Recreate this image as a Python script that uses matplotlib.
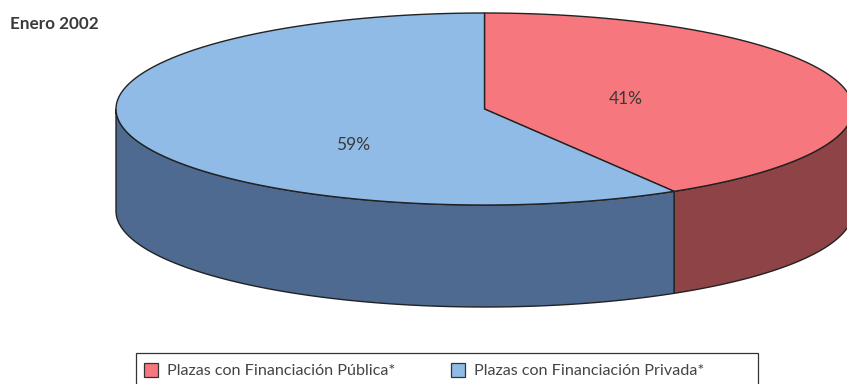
#!/usr/bin/env python
import numpy as np
import matplotlib
matplotlib.use('Agg')
import matplotlib.pyplot as plt
from matplotlib.patches import Polygon, Rectangle

# slices, clockwise from 12 o'clock
categories = ['Plazas con Financiación Pública*', 'Plazas con Financiación Privada*']
values = [41.4, 58.6]
labels = ['41%', '59%']
top_colors = ['#f6777d', '#8fbbe6']
side_colors = ['#8e4347', '#4e6a90']

W, H = 847, 384
cx, cy = 484.5, 109.0
rx, ry = 368.5, 96.0
depth = 102.0
edge = '#222222'


def rim(a0, a1, dy=0.0):
    # points on the ellipse, angle in degrees clockwise from the top
    t = np.radians(np.linspace(a0, a1, 300))
    return np.column_stack((cx + rx*np.sin(t), cy + dy - ry*np.cos(t)))


fig = plt.figure(figsize=(W/100, H/100), dpi=100)
ax = fig.add_axes([0, 0, 1, 1])
ax.set_xlim(0, W)
ax.set_ylim(H, 0)
ax.axis('off')

shares = np.array(values)/sum(values)*360
starts = np.concatenate(([0], np.cumsum(shares)[:-1]))

# side wall, only the front half of the rim shows
for a0, da, col in zip(starts, shares, side_colors):
    lo, hi = max(a0, 90), min(a0+da, 270)
    if hi > lo:
        front = rim(lo, hi)
        ax.add_patch(Polygon(np.vstack((front, rim(lo, hi, depth)[::-1])), closed=True,
                             fc=col, ec=edge, lw=1.0, zorder=2))

# top face
for a0, da, col in zip(starts, shares, top_colors):
    pts = np.vstack(([[cx, cy]], rim(a0, a0+da)))
    ax.add_patch(Polygon(pts, closed=True, fc=col, ec=edge, lw=1.0, zorder=3))

ax.text(626, 98.5, labels[0], ha='center', va='center', fontsize=12.5,
        family='Lato', color='#3a3a3a', zorder=4)
ax.text(353, 144.5, labels[1], ha='center', va='center', fontsize=12.5,
        family='Lato', color='#3a3a3a', zorder=4)

ax.text(10.5, 24, 'Enero 2002', ha='left', va='center', fontsize=12.3,
        family='Lato', fontweight='bold', color='#3a3a3a')

# legend box runs off the bottom of the image
ax.add_patch(Rectangle((135.5, 352.5), 622, 40, fc='white', ec='#333333', lw=0.9, zorder=1))
for sx, tx, col, name in zip([144, 451], [167, 474], top_colors, categories):
    ax.add_patch(Rectangle((sx, 363), 14, 14, fc=col, ec='#333333', lw=0.9, zorder=2))
    ax.text(tx, 371, name, ha='left', va='center', fontsize=11.6,
            family='Lato', color='#444444', zorder=2)

fig.savefig('out.png', dpi=100)
